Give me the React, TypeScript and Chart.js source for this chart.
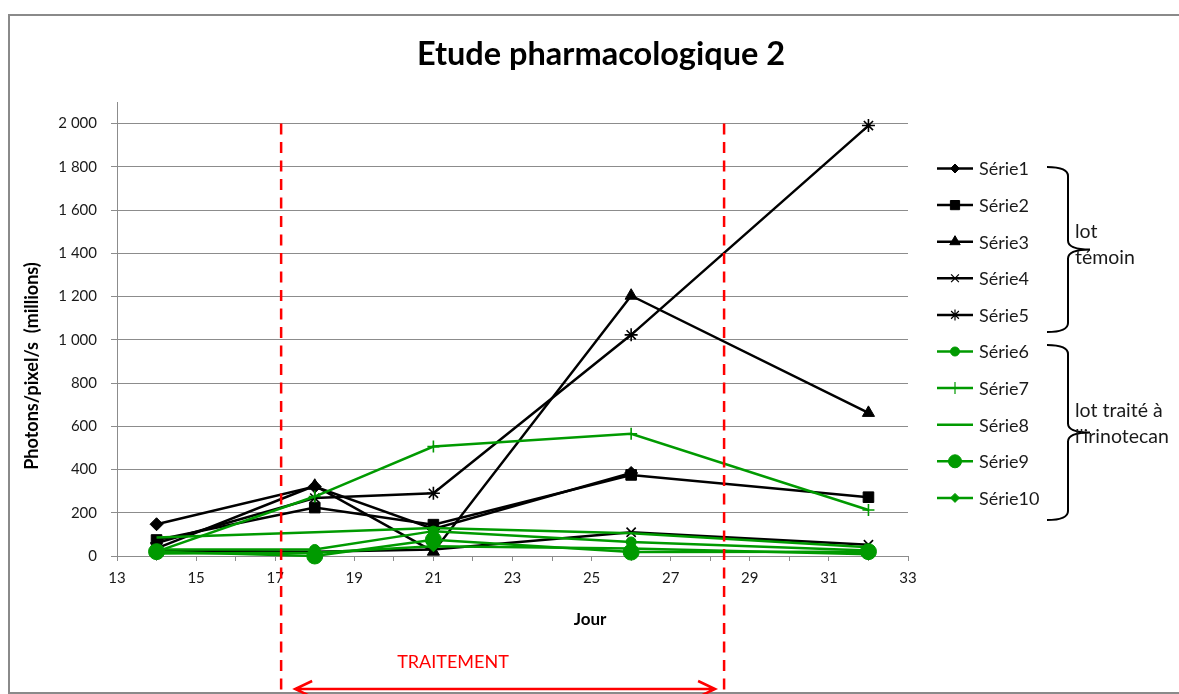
import React, { useEffect, useRef } from 'react';
import { Chart, registerables } from 'chart.js';
import { drawPoint } from 'chart.js/helpers';

Chart.register(...registerables);

// ---------- data ----------
const days = [14, 18, 21, 26, 32];
const serie1 = [147, 321, 125, 384, null];
const serie2 = [74, 224, 145, 375, 272];
const serie3 = [35, 325, 20, 1204, 662];
const serie4 = [25, 20, 30, 110, 52];
const serie5 = [60, 268, 290, 1023, 1991];
const serie6 = [30, 30, 115, 65, 25];
const serie7 = [20, 275, 506, 565, 213];
const serie8 = [85, 110, 130, 105, 40];
const serie9 = [20, 0, 75, 18, 20];
const serie10 = [12, 15, 45, 35, 8];

const seriesNames = ['Série1', 'Série2', 'Série3', 'Série4', 'Série5', 'Série6', 'Série7', 'Série8', 'Série9', 'Série10'];
const seriesValues = [serie1, serie2, serie3, serie4, serie5, serie6, serie7, serie8, serie9, serie10];

const xMin = 13;
const xMax = 33;
const yMin = 0;
const yMax = 2100;
const yStep = 200;
const yTopTick = 2000;

const treatmentStart = 17.15;
const treatmentEnd = 28.35;

const chartTitle = 'Etude pharmacologique 2';
const yTitle = 'Photons/pixel/s  (millions)';
const xTitle = 'Jour';
const treatmentLabel = 'TRAITEMENT';
const groupControl = ['lot', 'témoin'];
const groupTreated = ['lot traité à', "l'irinotecan"];

// ---------- styles ----------
const BLACK = '#000000';
const GREEN = '#009a00';
const GRID = '#8c8c8c';
const TEXT = '#1a1a1a';
const FONT = 'Lato, "Open Sans", sans-serif';

const seriesStyles = [
  { color: BLACK, pointStyle: 'rectRot', radius: 6.5, legendRadius: 4.5 },
  { color: BLACK, pointStyle: 'rect', radius: 7.5, legendRadius: 6.5 },
  { color: BLACK, pointStyle: 'triangle', radius: 7, legendRadius: 6 },
  { color: BLACK, pointStyle: 'crossRot', radius: 6.5, legendRadius: 5.5 },
  { color: BLACK, pointStyle: 'star', radius: 6.5, legendRadius: 5.5 },
  { color: GREEN, pointStyle: 'circle', radius: 5, legendRadius: 4.5 },
  { color: GREEN, pointStyle: 'cross', radius: 6, legendRadius: 6 },
  { color: GREEN, pointStyle: 'circle', radius: 0, legendRadius: 0 },
  { color: GREEN, pointStyle: 'circle', radius: 8, legendRadius: 6.5 },
  { color: GREEN, pointStyle: 'rectRot', radius: 5.5, legendRadius: 4.5 },
];

function formatThousands(v: number): string {
  return String(v).replace(/\B(?=(\d{3})+(?!\d))/g, ' ');
}

function isCrossLike(s: string) {
  return s === 'cross' || s === 'crossRot' || s === 'star';
}

function drawBrace(ctx: CanvasRenderingContext2D, x0: number, xMid: number, xTip: number, yTop: number, yBot: number) {
  const yC = (yTop + yBot) / 2;
  const r = 9;
  ctx.beginPath();
  ctx.moveTo(x0, yTop);
  ctx.quadraticCurveTo(xMid, yTop, xMid, yTop + r);
  ctx.lineTo(xMid, yC - r);
  ctx.quadraticCurveTo(xMid, yC, xTip, yC);
  ctx.moveTo(xTip, yC);
  ctx.quadraticCurveTo(xMid, yC, xMid, yC + r);
  ctx.lineTo(xMid, yBot - r);
  ctx.quadraticCurveTo(xMid, yBot, x0, yBot);
  ctx.stroke();
}

const decorPlugin = {
  id: 'decor',
  beforeDraw(chart: any) {
    const ctx: CanvasRenderingContext2D = chart.ctx;
    ctx.save();
    ctx.fillStyle = '#ffffff';
    ctx.fillRect(0, 0, chart.width, chart.height);
    ctx.strokeStyle = '#8a8a8a';
    ctx.lineWidth = 2;
    ctx.strokeRect(9, 15, chart.width + 20, 678);
    ctx.restore();
  },
  afterDraw(chart: any) {
    const ctx: CanvasRenderingContext2D = chart.ctx;
    const xs = chart.scales.x;
    const ys = chart.scales.y;
    ctx.save();

    // title
    ctx.fillStyle = '#000';
    ctx.font = `bold 32.5px ${FONT}`;
    ctx.textAlign = 'center';
    ctx.textBaseline = 'middle';
    ctx.fillText(chartTitle, 601, 55);

    // axis titles
    ctx.font = `bold 17px ${FONT}`;
    ctx.fillText(xTitle, 590, 620);
    ctx.save();
    ctx.translate(32, 366);
    ctx.rotate(-Math.PI / 2);
    ctx.font = `bold 18px ${FONT}`;
    ctx.fillText(yTitle, 0, 0);
    ctx.restore();

    // treatment dashed lines
    const xa = xs.getPixelForValue(treatmentStart);
    const xb = xs.getPixelForValue(treatmentEnd);
    const yTop = ys.getPixelForValue(yTopTick);
    ctx.strokeStyle = '#ff0000';
    ctx.lineWidth = 2.5;
    ctx.setLineDash([11, 7.5]);
    ctx.beginPath();
    ctx.moveTo(xa, yTop);
    ctx.lineTo(xa, chart.height);
    ctx.moveTo(xb, yTop);
    ctx.lineTo(xb, chart.height);
    ctx.stroke();
    ctx.setLineDash([]);

    // arrow
    const ay = 689;
    const a0 = xa + 14;
    const a1 = xb - 9;
    ctx.lineWidth = 2.5;
    ctx.beginPath();
    ctx.moveTo(a0, ay);
    ctx.lineTo(a1, ay);
    ctx.moveTo(a0 + 17, ay - 8);
    ctx.lineTo(a0, ay);
    ctx.lineTo(a0 + 17, ay + 8);
    ctx.moveTo(a1 - 17, ay - 8);
    ctx.lineTo(a1, ay);
    ctx.lineTo(a1 - 17, ay + 8);
    ctx.stroke();

    ctx.fillStyle = '#ff0000';
    ctx.font = `18px ${FONT}`;
    ctx.fillText(treatmentLabel, 453, 662);

    // legend
    const lx0 = 937;
    const lx1 = 973;
    const ly0 = 168.5;
    const lstep = 36.6;
    chart.data.datasets.forEach((ds: any, i: number) => {
      const st = seriesStyles[i];
      const y = ly0 + i * lstep;
      ctx.strokeStyle = st.color;
      ctx.fillStyle = st.color;
      ctx.lineWidth = 2.5;
      ctx.beginPath();
      ctx.moveTo(lx0, y);
      ctx.lineTo(lx1, y);
      ctx.stroke();
      if (st.legendRadius > 0) {
        ctx.lineWidth = isCrossLike(st.pointStyle) ? 1.2 : 1;
        drawPoint(ctx, { pointStyle: st.pointStyle, radius: st.legendRadius, rotation: 0, borderWidth: ctx.lineWidth } as any, (lx0 + lx1) / 2, y);
      }
      ctx.fillStyle = TEXT;
      ctx.font = `18px ${FONT}`;
      ctx.textAlign = 'left';
      ctx.textBaseline = 'middle';
      ctx.fillText(ds.label, 979, y + 1);
    });

    // braces
    ctx.strokeStyle = '#000';
    ctx.lineWidth = 2;
    drawBrace(ctx, 1047, 1068, 1090, 167, 332);
    drawBrace(ctx, 1047, 1068, 1090, 345, 520);

    ctx.fillStyle = TEXT;
    ctx.font = `19.5px ${FONT}`;
    ctx.textAlign = 'left';
    ctx.textBaseline = 'middle';
    ctx.fillText(groupControl[0], 1075, 232);
    ctx.fillText(groupControl[1], 1075, 258);
    ctx.fillText(groupTreated[0], 1075, 411);
    ctx.fillText(groupTreated[1], 1075, 437);

    ctx.restore();
  },
};

export default function App() {
  const canvasRef = useRef<HTMLCanvasElement | null>(null);

  useEffect(() => {
    if (!canvasRef.current) return;
    const datasets = seriesNames.map((name, i) => {
      const st = seriesStyles[i];
      return {
        label: name,
        data: days.map((d, j) => ({ x: d, y: seriesValues[i][j] })),
        borderColor: st.color,
        backgroundColor: st.color,
        borderWidth: 2.5,
        pointStyle: st.pointStyle,
        pointRadius: st.radius,
        pointBorderWidth: isCrossLike(st.pointStyle) ? 1.6 : 1,
        pointBorderColor: st.color,
        pointBackgroundColor: st.color,
        tension: 0,
        fill: false,
        spanGaps: false,
        clip: false,
        order: seriesNames.length - i,
      };
    });

    const chart = new Chart(canvasRef.current, {
      type: 'line',
      data: { datasets },
      plugins: [decorPlugin],
      options: {
        animation: false,
        responsive: false,
        maintainAspectRatio: false,
        layout: { padding: { left: 0, top: 102, right: 271, bottom: 98 } },
        plugins: {
          legend: { display: false },
          title: { display: false },
          tooltip: { enabled: false },
        },
        scales: {
          x: {
            type: 'linear',
            min: xMin,
            max: xMax,
            afterFit: (scale: any) => { scale.height = 40; },
            ticks: {
              stepSize: 1,
              autoSkip: false,
              maxRotation: 0,
              padding: 8,
              color: TEXT,
              font: { family: FONT, size: 15 },
              callback: (v: any) => (Number(v) % 2 === 1 ? String(v) : ''),
            },
            grid: { drawOnChartArea: false, drawTicks: true, tickLength: 5, color: GRID, lineWidth: 1 },
            border: { display: true, color: GRID, width: 1 },
          },
          y: {
            type: 'linear',
            min: yMin,
            max: yMax,
            afterFit: (scale: any) => { scale.width = 117; },
            afterBuildTicks: (scale: any) => {
              scale.ticks = scale.ticks.filter((t: any) => t.value % yStep === 0);
            },
            ticks: {
              stepSize: yStep,
              padding: 14,
              color: TEXT,
              font: { family: FONT, size: 15 },
              callback: (v: any) => formatThousands(Number(v)),
            },
            grid: { drawOnChartArea: true, drawTicks: true, tickLength: 6, color: GRID, lineWidth: 1 },
            border: { display: true, color: GRID, width: 1 },
          },
        },
      } as any,
    });
    return () => chart.destroy();
  }, []);

  return (
    <div style={{ position: 'fixed', left: 0, top: 0, width: 1179, height: 694, background: '#fff' }}>
      <canvas ref={canvasRef} width={1179} height={694} style={{ display: 'block' }} />
    </div>
  );
}
